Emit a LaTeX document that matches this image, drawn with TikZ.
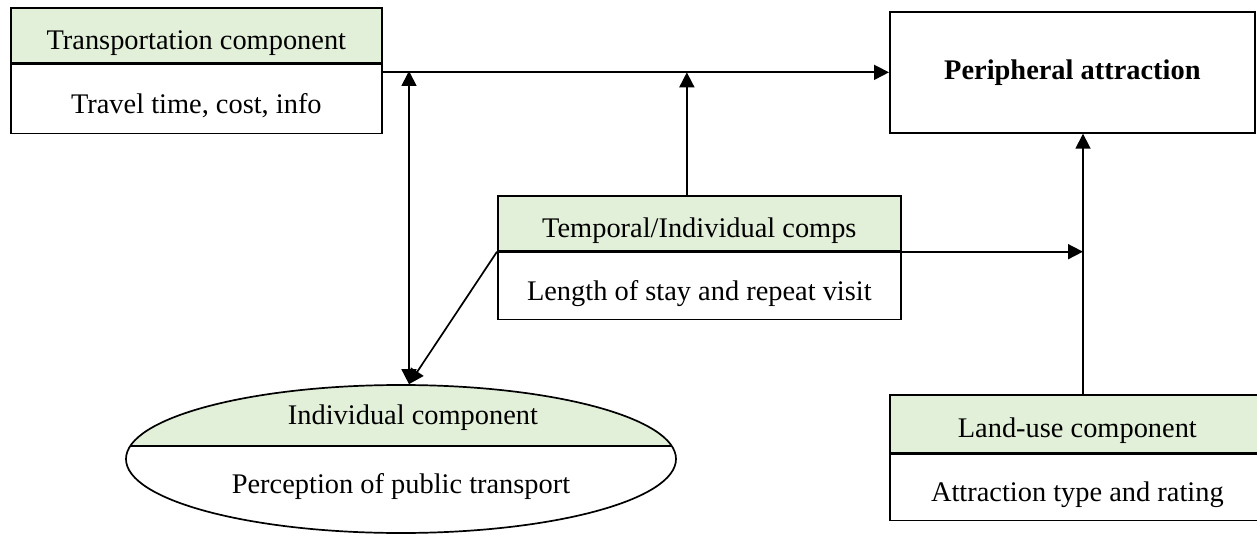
\documentclass[tikz,border=0pt]{standalone}
\usepackage{fontspec}
\setmainfont{Liberation Serif}
\usetikzlibrary{arrows.meta,positioning,shapes.geometric}
\definecolor{headgreen}{HTML}{E2EFD9}
\newcommand{\boxfont}{\fontsize{28.4pt}{34pt}\selectfont}

\begin{document}
\begin{tikzpicture}[x=1pt, y=-1pt]
  \tikzset{every node/.style={font=\boxfont, inner sep=0pt},
    lowtext/.style={text height=28pt, text depth=0pt},
    head/.style={draw, line width=1.7pt, fill=headgreen, anchor=north west, lowtext},
    body/.style={draw, line width=1.7pt, fill=white, lowtext},
    arr/.style={line width=1.7pt, -{Triangle[length=15pt,width=15pt]}},
    arrboth/.style={line width=1.7pt, {Triangle[length=15pt,width=15pt]}-{Triangle[length=15pt,width=15pt]}}}
  \useasboundingbox (0,0) rectangle (1257,534);

  \node[head, minimum width=371pt, minimum height=55pt] (trhead) at (10,7) {Transportation component};
  \node[body, minimum width=371pt, minimum height=69pt, below=0pt of trhead] (trbody) {Travel time, cost, info};

  \node[draw, line width=1.7pt, anchor=north west, minimum width=365pt, minimum height=121pt] (peri) at (889,11) {\textbf{Peripheral attraction}};

  \node[head, minimum width=403pt, minimum height=55pt] (tmhead) at (497,195) {Temporal/Individual comps};
  \node[body, minimum width=403pt, minimum height=67pt, below=0pt of tmhead] (tmbody) {Length of stay and repeat visit};

  \node[head, minimum width=375pt, minimum height=58pt] (luhead) at (889,394) {Land-use component};
  \node[body, minimum width=375pt, minimum height=66pt, below=0pt of luhead] (lubody) {Attraction type and rating};

  \node[draw, ellipse, line width=1.7pt, minimum width=550pt, minimum height=148pt,
    path picture={
      \fill[headgreen] (path picture bounding box.north west) rectangle ([yshift=13pt]path picture bounding box.east);
      \draw[line width=1.7pt] ([yshift=13pt]path picture bounding box.west) -- ([yshift=13pt]path picture bounding box.east);
    }] (indiv) at (401,459) {};
  \node (indivhead) at (413,418) {Individual component};
  \node (indivbody) at (401,487) {Perception of public transport};

  \coordinate (tcross) at (409,71);
  \coordinate (vfoot) at (1083,394);

  \draw[arr] (peri.west -| trbody.east) -- (peri.west);
  \draw[arrboth] (tcross) -- (tcross |- indiv.north);
  \draw[arr] ([xshift=-12.5pt]tmhead.north) -- ([xshift=-12.5pt]tmhead.north |- peri.west);
  \draw[arr] (tmhead.south west) -- (tcross |- indiv.north);
  \draw[arr] (tmhead.south east) -- (tmhead.south east -| vfoot);
  \draw[arr] (vfoot) -- (vfoot |- peri.south);
\end{tikzpicture}
\end{document}
